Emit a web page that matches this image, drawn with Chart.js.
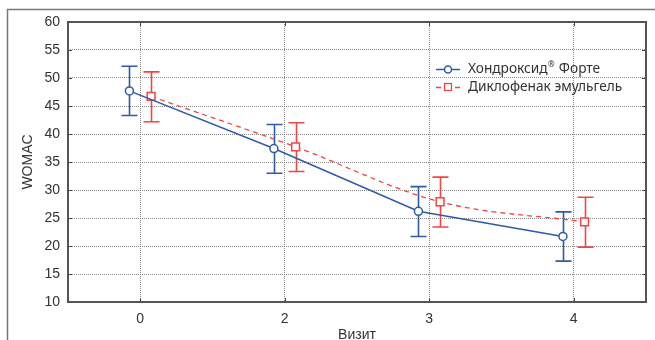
<!DOCTYPE html>
<html><head><meta charset="utf-8">
<script src="https://cdn.jsdelivr.net/npm/chart.js@4.4.0/dist/chart.umd.min.js"></script>
<style>html,body{margin:0;padding:0;background:#fff;}#wrap{width:655px;height:340px;}</style>
</head><body><div id="wrap"><canvas id="c" width="655" height="340"></canvas></div>
<script>
// ---- data ----
const categories = ['0', '2', '3', '4'];
const seriesNames = ['Хондроксид', 'Диклофенак эмульгель'];
const hondroMean  = [47.7, 37.4, 26.2, 21.7];
const hondroUpper = [52.1, 41.7, 30.6, 26.1];
const hondroLower = [43.3, 33.0, 21.7, 17.3];
const diclMean    = [46.7, 37.7, 27.9, 24.3];
const diclUpper   = [51.1, 42.0, 32.3, 28.7];
const diclLower   = [42.2, 33.3, 23.4, 19.8];
const yMin = 10, yMax = 60, yStep = 5;

// ---- styles ----
const BLUE = '#2e5aa8';
const RED = '#f04545';
const SHIFT = 0.075; // horizontal dodge of the two series (category units)
const TXT = '#333333';

const pts = (arr, d) => arr.map((v, i) => ({ x: i + d, y: v }));

const errorBars = {
  id: 'errorBars',
  beforeDatasetsDraw(chart) {
    const { ctx, scales: { x, y } } = chart;
    const sets = [
      { up: hondroUpper, lo: hondroLower, d: -SHIFT, c: BLUE },
      { up: diclUpper, lo: diclLower, d: SHIFT, c: RED }
    ];
    ctx.save();
    ctx.lineWidth = 1.6;
    sets.forEach(s => {
      ctx.strokeStyle = s.c;
      s.up.forEach((u, i) => {
        const px = Math.round(x.getPixelForValue(i + s.d)) + 0.5;
        const pu = y.getPixelForValue(u), pl = y.getPixelForValue(s.lo[i]);
        ctx.beginPath();
        ctx.moveTo(px, pu); ctx.lineTo(px, pl);
        ctx.moveTo(px - 8, pu); ctx.lineTo(px + 8, pu);
        ctx.moveTo(px - 8, pl); ctx.lineTo(px + 8, pl);
        ctx.stroke();
      });
    });
    ctx.restore();
  }
};

const frame = {
  id: 'frame',
  afterDraw(chart) {
    const { ctx, chartArea: a, scales: { x, y } } = chart;
    ctx.save();
    // outer frame
    ctx.strokeStyle = '#777';
    ctx.lineWidth = 1.5;
    ctx.beginPath();
    ctx.moveTo(7.5, 340); ctx.lineTo(7.5, 9.5); ctx.lineTo(655, 9.5);
    ctx.stroke();
    // inner tick marks
    ctx.strokeStyle = '#444';
    ctx.lineWidth = 1;
    ctx.beginPath();
    for (let v = yMin; v <= yMax; v += yStep) {
      const py = Math.round(y.getPixelForValue(v)) + 0.5;
      ctx.moveTo(a.left, py); ctx.lineTo(a.left + 4, py);
      ctx.moveTo(a.right, py); ctx.lineTo(a.right - 4, py);
    }
    categories.forEach((c, i) => {
      const px = Math.round(x.getPixelForValue(i)) + 0.5;
      ctx.moveTo(px, a.top); ctx.lineTo(px, a.top + 4);
      ctx.moveTo(px, a.bottom); ctx.lineTo(px, a.bottom - 4);
    });
    ctx.stroke();
    // plot border
    ctx.strokeStyle = '#555';
    ctx.lineWidth = 2;
    ctx.strokeRect(a.left, a.top, a.right - a.left, a.bottom - a.top);

    // legend
    const lx = 436, tx = 468, rows = [69, 87];
    ctx.font = '13.7px "Noto Sans"';
    ctx.textBaseline = 'middle';
    ctx.fillStyle = TXT;
    // row 1
    ctx.strokeStyle = BLUE; ctx.lineWidth = 1.5;
    ctx.beginPath(); ctx.moveTo(lx, rows[0] + 0.5); ctx.lineTo(lx + 24, rows[0] + 0.5); ctx.stroke();
    ctx.beginPath(); ctx.arc(lx + 12, rows[0] + 0.5, 3.5, 0, Math.PI * 2);
    ctx.fillStyle = '#fff'; ctx.fill(); ctx.stroke();
    ctx.fillStyle = TXT;
    ctx.textAlign = 'left';
    ctx.fillText(seriesNames[0], tx, rows[0]);
    let w = ctx.measureText(seriesNames[0]).width;
    ctx.font = '8px "Noto Sans"';
    ctx.fillText('®', tx + w + 0.5, rows[0] - 4);
    const w2 = ctx.measureText('®').width;
    ctx.font = '13.7px "Noto Sans"';
    ctx.fillText(' Форте', tx + w + w2 + 1, rows[0]);
    // row 2
    ctx.strokeStyle = RED; ctx.lineWidth = 1.3;
    ctx.beginPath();
    ctx.moveTo(lx, rows[1] + 0.5); ctx.lineTo(lx + 5, rows[1] + 0.5);
    ctx.moveTo(lx + 19, rows[1] + 0.5); ctx.lineTo(lx + 24, rows[1] + 0.5);
    ctx.stroke();
    ctx.fillStyle = '#fff';
    ctx.fillRect(lx + 8.5, rows[1] - 3.5, 7, 7);
    ctx.strokeRect(lx + 8.5, rows[1] - 3.5, 7, 7);
    ctx.fillStyle = TXT;
    ctx.fillText(seriesNames[1], tx, rows[1]);
    ctx.restore();
  }
};

new Chart(document.getElementById('c'), {
  type: 'line',
  data: {
    datasets: [
      {
        label: seriesNames[0] + '® Форте',
        data: pts(hondroMean, -SHIFT),
        borderColor: BLUE, borderWidth: 1.5,
        pointStyle: 'circle', pointRadius: 4, pointBorderWidth: 1.5,
        pointBackgroundColor: '#fff', pointBorderColor: BLUE,
        tension: 0
      },
      {
        label: seriesNames[1],
        data: pts(diclMean, SHIFT),
        borderColor: RED, borderWidth: 1.3, borderDash: [5, 4],
        pointStyle: 'rect', pointRadius: 5.5, pointBorderWidth: 1.5,
        pointBackgroundColor: '#fff', pointBorderColor: RED,
        tension: 0.35
      }
    ]
  },
  options: {
    responsive: false, animation: false, devicePixelRatio: 1,
    layout: { padding: { top: 22, right: 9, left: 0, bottom: 0 } },
    plugins: { legend: { display: false }, tooltip: { enabled: false } },
    scales: {
      x: {
        type: 'linear', min: -0.5, max: 3.5,
        afterBuildTicks(s) { s.ticks = categories.map((c, i) => ({ value: i })); },
        afterFit(s) { s.height = 38; },
        ticks: {
          callback: (v) => categories[v] ?? '',
          color: TXT, font: { size: 14, family: '"Liberation Sans", Arial' }, padding: 9, maxRotation: 0
        },
        grid: { color: '#8a8a8a', lineWidth: 1, drawTicks: false },
        border: { display: false, dash: [1, 1] },
        title: {
          display: true, text: 'Визит', color: TXT,
          font: { size: 14, family: '"Liberation Sans", Arial', lineHeight: 0.7 }, padding: { top: 0, bottom: 0 }
        }
      },
      y: {
        min: yMin, max: yMax,
        afterFit(s) { s.width = 68; },
        ticks: { stepSize: yStep, color: TXT, font: { size: 14, family: '"Liberation Sans", Arial' }, padding: 8 },
        grid: { color: '#8a8a8a', lineWidth: 1, drawTicks: false },
        border: { display: false, dash: [1, 1] },
        title: {
          display: true, text: 'WOMAC', color: TXT,
          font: { size: 14, family: '"Liberation Sans", Arial', lineHeight: 1.2 }, padding: { top: 20, bottom: 0 }
        }
      }
    }
  },
  plugins: [errorBars, frame]
});
</script></body></html>
